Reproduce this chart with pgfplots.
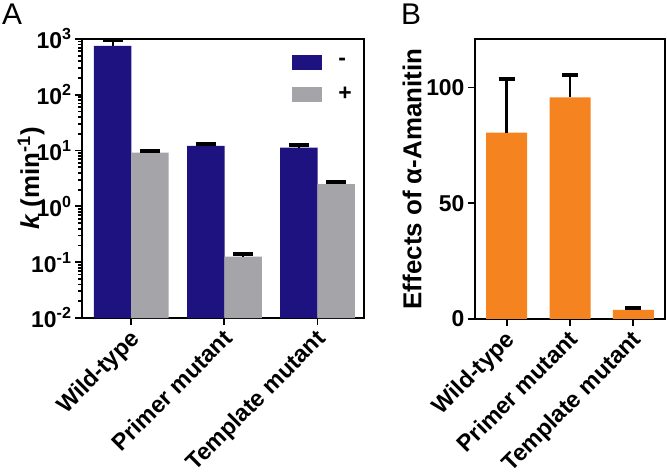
\documentclass[border=0pt]{standalone}
\usepackage{fontspec}
\setmainfont{Liberation Sans}
\usepackage{pgfplots}
\pgfplotsset{compat=1.18}
\definecolor{kBlue}{RGB}{30,17,128}
\definecolor{kGray}{RGB}{165,165,169}
\definecolor{kOrange}{RGB}{245,131,32}
\newcommand{\tickfont}{\fontsize{23}{26}\selectfont\bfseries}
\newcommand{\labfont}{\fontsize{26}{30}\selectfont\bfseries}
\pgfplotsset{panel/.style={scale only axis, anchor=south west,
  axis line style={line width=2.2bp}, tick style={line width=1.8bp, black},
  tick align=outside, tick pos=left, major tick length=7bp, minor tick length=4bp,
  ticklabel style={font=\tickfont},
  xtick={0,1,2}, xticklabels={Wild-type,Primer mutant,Template mutant},
  xticklabel style={rotate=45, anchor=north east, inner sep=1bp,
    font=\fontsize{23.5}{26}\selectfont\bfseries, xshift=-3bp, yshift=1bp},
  every axis y label/.style={at={(rel axis cs:0,0.5)}, rotate=90, anchor=center, font=\labfont},
  ybar, bar shift=0pt,
  error bars/error mark=|,
  error bars/error bar style={line width=2.4bp, black},
  error bars/error mark options={line width=4bp, mark size=10bp, black}}}

\begin{document}
\begin{tikzpicture}
\useasboundingbox (0,0) rectangle (667bp,475bp);
\node[font=\fontsize{30}{30}\selectfont] at (12bp,461bp) {A};
\node[font=\fontsize{30}{30}\selectfont] at (411bp,461bp) {B};

\begin{axis}[panel, at={(82bp,157bp)}, width=282bp, height=279bp,
  ymode=log, log origin y=infty, ymin=1e-2, ymax=1e3,
  xmin=-0.53, xmax=2.5, bar width=37.5bp,
  ytick={1e-2,1e-1,1e0,1e1,1e2,1e3},
  yticklabels={10\textsuperscript{-2},10\textsuperscript{-1},10\textsuperscript{0},10\textsuperscript{1},10\textsuperscript{2},10\textsuperscript{3}},
  ylabel={\textit{k} (min\textsuperscript{-1})}, ylabel style={yshift=51bp},
  legend image code/.code={\fill[#1] (0bp,-7.5bp) rectangle (30bp,7.5bp);},
  legend style={draw=none, fill=none, at={(0.745,0.943)}, anchor=north west,
    inner sep=0pt, row sep=15bp, column sep=14bp, font=\tickfont},
  legend cell align=left]
\addplot[fill=kBlue, draw=none, error bars/.cd, y dir=plus, y explicit]
  coordinates {(-0.2,750) +- (0,200) (0.8,12.1) +- (0,1.2) (1.8,11.3) +- (0,1.2)};
\addplot[fill=kGray, draw=none, error bars/.cd, y dir=plus, y explicit]
  coordinates {(0.2,9.2) +- (0,0.7) (1.2,0.126) +- (0,0.012) (2.2,2.5) +- (0,0.2)};
\legend{-,+}
\end{axis}

\begin{axis}[panel, at={(475bp,156bp)}, width=190bp, height=280bp,
  ymin=0, ymax=121, xmin=-0.5, xmax=2.5, bar width=41bp,
  ytick={0,50,100}, yticklabels={0,50,100},
  ylabel={Effects of α-Amanitin}, ylabel style={yshift=63bp}]
\addplot[fill=kOrange, draw=none, error bars/.cd, y dir=plus, y explicit,
  error mark options={line width=4bp, mark size=8bp, black}]
  coordinates {(0,80.5) +- (0,23) (1,95.8) +- (0,9.6) (2,3.9) +- (0,1)};
\end{axis}
\end{tikzpicture}
\end{document}
